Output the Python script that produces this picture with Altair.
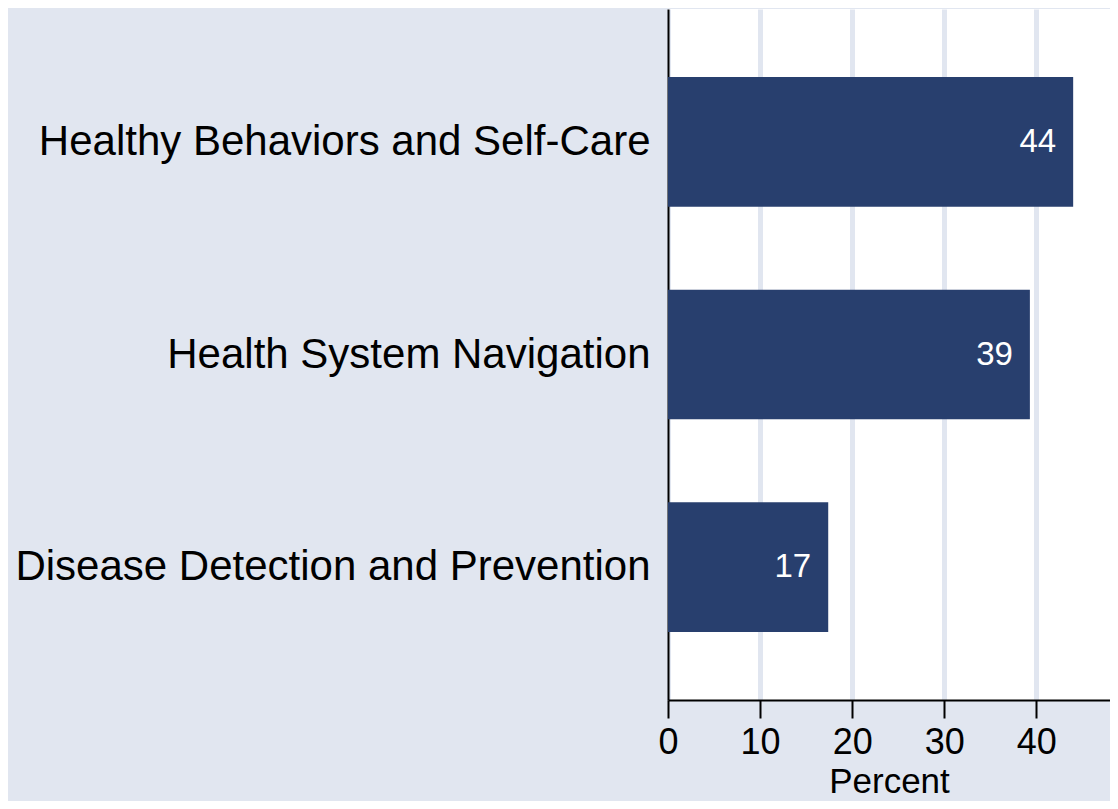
import altair as alt
import pandas as pd

categories = ["Healthy Behaviors and Self-Care", "Health System Navigation", "Disease Detection and Prevention"]
values = [44.0, 39.3, 17.4]
labels = ["44", "39", "17"]

df = pd.DataFrame({"category": categories, "value": values, "label": labels})

FONT = "Liberation Sans"
BG = "#E1E6F0"
BAR = "#283F6E"

y_enc = alt.Y(
    "category:N",
    sort=categories,
    title=None,
    scale=alt.Scale(paddingInner=0.39, paddingOuter=0.32),
    axis=alt.Axis(
        labelFontSize=42,
        labelFont=FONT,
        labelColor="black",
        labelPadding=18,
        labelLimit=700,
        ticks=False,
        domainColor="black",
        domainWidth=2,
        grid=False,
    ),
)

x_enc = alt.X(
    "value:Q",
    title="Percent",
    scale=alt.Scale(domain=[0, 48], nice=False),
    axis=alt.Axis(
        values=[0, 10, 20, 30, 40],
        labelFontSize=36,
        labelFont=FONT,
        labelColor="black",
        labelPadding=7,
        labelFlush=False,
        tickSize=18,
        tickWidth=2,
        tickColor="black",
        domainColor="black",
        domainWidth=2,
        grid=True,
        gridColor=BG,
        gridWidth=5,
        titleFont=FONT,
        titleFontSize=35,
        titleFontWeight="normal",
        titleColor="black",
        titlePadding=4,
    ),
)

bars = alt.Chart(df).mark_bar(color=BAR).encode(x=x_enc, y=y_enc)

text = alt.Chart(df).mark_text(
    align="right", baseline="middle", dx=-17, color="white", fontSize=33, font=FONT
).encode(x="value:Q", y=alt.Y("category:N", sort=categories), text="label:N")

chart = (
    (bars + text)
    .properties(
        width=442,
        height=691,
        autosize=alt.AutoSizeParams(type="none"),
        padding={"left": 660, "top": 1, "right": 0, "bottom": 101},
        background=BG,
    )
    .configure_view(fill="white", stroke=None)
)

chart.save("out.html", embed_options={"renderer": "svg", "actions": False})
